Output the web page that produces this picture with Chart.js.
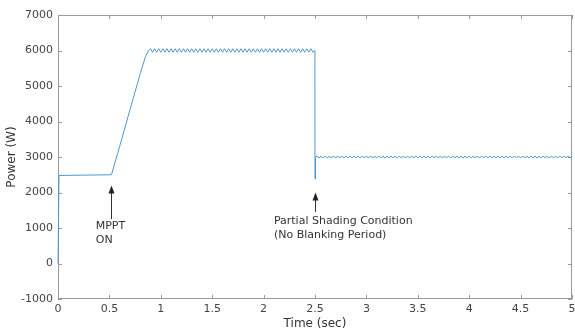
<!DOCTYPE html>
<html>
<head>
<meta charset="utf-8">
<script src="https://cdn.jsdelivr.net/npm/chart.js@4.4.0/dist/chart.umd.min.js"></script>
<style>
  html, body { margin: 0; padding: 0; background: #fff; }
  #wrap { width: 575px; height: 334px; }
</style>
</head>
<body>
<div id="wrap"><canvas id="grafica" width="575" height="334"></canvas></div>
<script>
// start-up and MPPT ramp
const startTime  = [0, 0.01, 0.52, 0.6, 0.7, 0.8, 0.85, 0.88];
const startPower = [0, 2480, 2500, 3300, 4330, 5350, 5820, 6000];

// full irradiance, ripple around 6000 W
const fullTime = [
  0.9, 0.92, 0.94, 0.96, 0.98, 1, 1.02, 1.04, 1.06, 1.08,
  1.1, 1.12, 1.14, 1.16, 1.18, 1.2, 1.22, 1.24, 1.26, 1.28,
  1.3, 1.32, 1.34, 1.36, 1.38, 1.4, 1.42, 1.44, 1.46, 1.48,
  1.5, 1.52, 1.54, 1.56, 1.58, 1.6, 1.62, 1.64, 1.66, 1.68,
  1.7, 1.72, 1.74, 1.76, 1.78, 1.8, 1.82, 1.84, 1.86, 1.88,
  1.9, 1.92, 1.94, 1.96, 1.98, 2, 2.02, 2.04, 2.06, 2.08,
  2.1, 2.12, 2.14, 2.16, 2.18, 2.2, 2.22, 2.24, 2.26, 2.28,
  2.3, 2.32, 2.34, 2.36, 2.38, 2.4, 2.42, 2.44, 2.46, 2.48
];
const fullPower = [
  6050, 5950, 6050, 5950, 6050, 5950, 6050, 5950, 6050, 5950,
  6050, 5950, 6050, 5950, 6050, 5950, 6050, 5950, 6050, 5950,
  6050, 5950, 6050, 5950, 6050, 5950, 6050, 5950, 6050, 5950,
  6050, 5950, 6050, 5950, 6050, 5950, 6050, 5950, 6050, 5950,
  6050, 5950, 6050, 5950, 6050, 5950, 6050, 5950, 6050, 5950,
  6050, 5950, 6050, 5950, 6050, 5950, 6050, 5950, 6050, 5950,
  6050, 5950, 6050, 5950, 6050, 5950, 6050, 5950, 6050, 5950,
  6050, 5950, 6050, 5950, 6050, 5950, 6050, 5950, 6050, 5950
];

// shading step at 2.5 s
const stepTime  = [2.499, 2.5, 2.505];
const stepPower = [6000, 2380, 3000];

// partial shading, ripple around 3000 W
const shadeTime = [
  2.52, 2.54, 2.56, 2.58, 2.6, 2.62, 2.64, 2.66, 2.68, 2.7,
  2.72, 2.74, 2.76, 2.78, 2.8, 2.82, 2.84, 2.86, 2.88, 2.9,
  2.92, 2.94, 2.96, 2.98, 3, 3.02, 3.04, 3.06, 3.08, 3.1,
  3.12, 3.14, 3.16, 3.18, 3.2, 3.22, 3.24, 3.26, 3.28, 3.3,
  3.32, 3.34, 3.36, 3.38, 3.4, 3.42, 3.44, 3.46, 3.48, 3.5,
  3.52, 3.54, 3.56, 3.58, 3.6, 3.62, 3.64, 3.66, 3.68, 3.7,
  3.72, 3.74, 3.76, 3.78, 3.8, 3.82, 3.84, 3.86, 3.88, 3.9,
  3.92, 3.94, 3.96, 3.98, 4, 4.02, 4.04, 4.06, 4.08, 4.1,
  4.12, 4.14, 4.16, 4.18, 4.2, 4.22, 4.24, 4.26, 4.28, 4.3,
  4.32, 4.34, 4.36, 4.38, 4.4, 4.42, 4.44, 4.46, 4.48, 4.5,
  4.52, 4.54, 4.56, 4.58, 4.6, 4.62, 4.64, 4.66, 4.68, 4.7,
  4.72, 4.74, 4.76, 4.78, 4.8, 4.82, 4.84, 4.86, 4.88, 4.9,
  4.92, 4.94, 4.96, 4.98, 5
];
const shadePower = [
  3030, 2970, 3030, 2970, 3030, 2970, 3030, 2970, 3030, 2970,
  3030, 2970, 3030, 2970, 3030, 2970, 3030, 2970, 3030, 2970,
  3030, 2970, 3030, 2970, 3030, 2970, 3030, 2970, 3030, 2970,
  3030, 2970, 3030, 2970, 3030, 2970, 3030, 2970, 3030, 2970,
  3030, 2970, 3030, 2970, 3030, 2970, 3030, 2970, 3030, 2970,
  3030, 2970, 3030, 2970, 3030, 2970, 3030, 2970, 3030, 2970,
  3030, 2970, 3030, 2970, 3030, 2970, 3030, 2970, 3030, 2970,
  3030, 2970, 3030, 2970, 3030, 2970, 3030, 2970, 3030, 2970,
  3030, 2970, 3030, 2970, 3030, 2970, 3030, 2970, 3030, 2970,
  3030, 2970, 3030, 2970, 3030, 2970, 3030, 2970, 3030, 2970,
  3030, 2970, 3030, 2970, 3030, 2970, 3030, 2970, 3030, 2970,
  3030, 2970, 3030, 2970, 3030, 2970, 3030, 2970, 3030, 2970,
  3030, 2970, 3030, 2970, 3030
];

const xTicks = [0, 0.5, 1, 1.5, 2, 2.5, 3, 3.5, 4, 4.5, 5];
const yTicks = [-1000, 0, 1000, 2000, 3000, 4000, 5000, 6000, 7000];

const tiempo = [...startTime, ...fullTime, ...stepTime, ...shadeTime];
const potencia = [...startPower, ...fullPower, ...stepPower, ...shadePower];
const puntos = tiempo.map((t, i) => ({ x: t, y: potencia[i] }));

const FONT = "'DejaVu Sans', sans-serif";
const AXIS_COLOR = "#9a9a9a";

// box, inward ticks and the two arrows with their notes
const marcoYNotas = {
  id: "marcoYNotas",
  beforeDatasetsDraw(chart) {
    const ctx = chart.ctx;
    const a = chart.chartArea;
    const xs = chart.scales.x, ys = chart.scales.y;
    ctx.save();
    ctx.strokeStyle = AXIS_COLOR;
    ctx.lineWidth = 1;
    ctx.strokeRect(a.left + 0.5, a.top + 0.5, a.right - a.left - 1, a.bottom - a.top - 1);
    ctx.beginPath();
    xTicks.forEach(v => {
      const px = Math.round(xs.getPixelForValue(v)) + 0.5;
      ctx.moveTo(px, a.bottom); ctx.lineTo(px, a.bottom - 4);
      ctx.moveTo(px, a.top); ctx.lineTo(px, a.top + 4);
    });
    yTicks.forEach(v => {
      const py = Math.round(ys.getPixelForValue(v)) + 0.5;
      ctx.moveTo(a.left, py); ctx.lineTo(a.left + 4, py);
      ctx.moveTo(a.right, py); ctx.lineTo(a.right - 4, py);
    });
    ctx.stroke();
    ctx.restore();
  },
  afterDraw(chart) {
    const ctx = chart.ctx;
    const xs = chart.scales.x, ys = chart.scales.y;
    ctx.save();
    function flecha(t, yTip, yTail) {
      const px = Math.round(xs.getPixelForValue(t)) + 0.5;
      const pTip = ys.getPixelForValue(yTip);
      const pTail = ys.getPixelForValue(yTail);
      ctx.strokeStyle = "#333";
      ctx.fillStyle = "#222";
      ctx.lineWidth = 1;
      ctx.beginPath();
      ctx.moveTo(px, pTail); ctx.lineTo(px, pTip + 6);
      ctx.stroke();
      ctx.beginPath();
      ctx.moveTo(px, pTip);
      ctx.lineTo(px - 3, pTip + 8);
      ctx.lineTo(px + 3, pTip + 8);
      ctx.closePath();
      ctx.fill();
    }
    function texto(t, y, s) {
      ctx.fillStyle = "#333";
      ctx.font = "11px " + FONT;
      ctx.textAlign = "left";
      ctx.textBaseline = "middle";
      ctx.fillText(s, xs.getPixelForValue(t), ys.getPixelForValue(y));
    }
    flecha(0.52, 2200, 1250);
    texto(0.367, 1060, "MPPT");
    texto(0.367, 660, "ON");
    flecha(2.5, 2000, 1450);
    texto(2.1, 1180, "Partial Shading Condition");
    texto(2.1, 800, "(No Blanking Period)");
    ctx.restore();
  }
};

const ctx = document.getElementById("grafica").getContext("2d");
const myChart = new Chart(ctx, {
  type: "line",
  data: {
    datasets: [{
      data: puntos,
      borderColor: "#5096cb",
      borderWidth: 1,
      pointRadius: 0,
      tension: 0,
      fill: false,
      clip: false
    }]
  },
  options: {
    responsive: false,
    animation: false,
    parsing: false,
    layout: { padding: { top: 15, right: 3, left: 0, bottom: 0 } },
    plugins: { legend: { display: false }, tooltip: { enabled: false } },
    scales: {
      x: {
        type: "linear",
        min: 0, max: 5,
        afterBuildTicks: s => { s.ticks = xTicks.map(v => ({ value: v })); },
        afterFit: s => { s.height = 35; s.paddingLeft = 0; s.paddingRight = 0; },
        grid: { display: false, drawTicks: false },
        border: { display: false },
        ticks: { color: "#444", font: { family: FONT, size: 11 }, padding: 4, maxRotation: 0, autoSkip: false,
                 callback: v => String(v) },
        title: { display: true, text: "Time (sec)", color: "#333", font: { family: FONT, size: 12 }, padding: { top: 0, bottom: 3 } }
      },
      y: {
        min: -1000, max: 7000,
        afterBuildTicks: s => { s.ticks = yTicks.map(v => ({ value: v })); },
        afterFit: s => { s.width = 58; s.paddingTop = 0; s.paddingBottom = 0; },
        grid: { display: false, drawTicks: false },
        border: { display: false },
        ticks: { color: "#444", font: { family: FONT, size: 11 }, padding: 5,
                 callback: v => String(v) },
        title: { display: true, text: "Power (W)", color: "#333", font: { family: FONT, size: 12 }, padding: { top: 5, bottom: 0 } }
      }
    }
  },
  plugins: [marcoYNotas]
});
</script>
</body>
</html>
